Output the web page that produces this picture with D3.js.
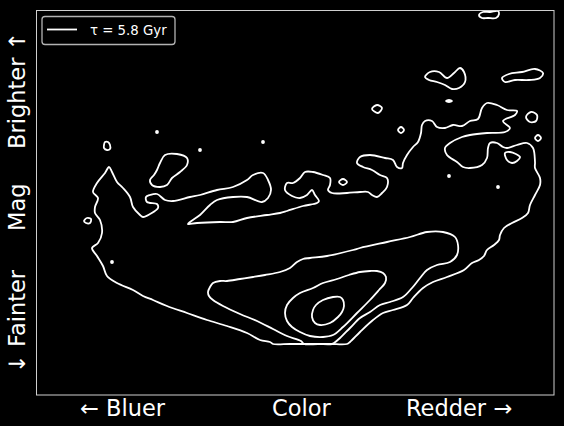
<!DOCTYPE html>
<html><head><meta charset="utf-8">
<script src="https://cdn.jsdelivr.net/npm/d3@7"></script>
<style>
html,body{margin:0;padding:0;background:#000;}
svg{display:block;font-family:"DejaVu Sans",sans-serif;}
</style></head>
<body><svg id="c" width="564" height="426"></svg>
<script>
// Data: color offset (x) and magnitude offset (y, larger = fainter)
const xLabels = ["\u2190 Bluer", "Color", "Redder \u2192"];
const yLabels = ["\u2193 Fainter", "Mag", "Brighter \u2191"];
const legendLabel = "\u03C4 = 5.8 Gyr";

const level1 = [[73,157],[76,162],[81,172],[87,178],[94,187],[97,197],[104,205],[107,207],[114,204],[122,198],[121,194],[111,192],[110,187],[114,185],[121,184],[129,190],[137,191],[154,187],[164,185],[181,180],[197,177],[211,170],[217,165],[227,163],[232,170],[235,180],[232,188],[226,192],[211,187],[197,187],[181,190],[174,195],[164,205],[154,212],[152,214],[161,213],[184,212],[197,212],[211,208],[231,205],[244,203],[251,201],[267,196],[281,193],[283,191],[279,185],[276,180],[271,185],[264,188],[256,186],[249,180],[251,173],[257,173],[264,168],[269,162],[277,162],[287,165],[294,168],[294,175],[292,180],[296,183],[311,183],[324,182],[332,182],[336,185],[341,187],[346,183],[351,177],[351,168],[344,165],[336,160],[327,157],[321,153],[324,147],[334,145],[349,148],[357,150],[361,157],[366,158],[367,153],[371,145],[377,137],[382,132],[385,123],[386,115],[389,111],[396,111],[401,117],[409,118],[417,115],[426,116],[434,111],[442,109],[446,98],[451,93],[461,95],[471,100],[481,101],[479,105],[467,111],[474,118],[469,122],[451,123],[434,125],[426,127],[414,133],[409,138],[411,145],[421,152],[427,157],[434,158],[446,155],[451,148],[452,138],[454,133],[461,133],[467,137],[471,138],[481,135],[491,133],[497,138],[499,152],[499,158],[504,168],[504,175],[499,185],[494,195],[492,203],[486,208],[476,213],[468,218],[464,225],[463,230],[458,235],[451,240],[448,246],[443,250],[436,253],[428,260],[411,267],[397,272],[387,278],[377,288],[371,295],[357,300],[347,303],[337,310],[324,322],[314,332],[311,334],[294,334],[274,334],[254,334],[237,334],[234,332],[224,330],[211,323],[191,316],[171,310],[151,303],[131,296],[117,290],[107,286],[97,280],[81,273],[71,266],[67,256],[61,246],[56,238],[62,233],[66,223],[64,210],[59,203],[59,197],[62,188],[57,182],[61,173],[69,163]];

const level1Islands = [
  [[68,135],[69,132],[72,132],[74,135],[74,139],[71,140],[68,138]],
  [[129,145],[141,144],[151,148],[151,155],[144,162],[136,168],[131,175],[124,177],[116,175],[114,170],[118,165],[121,160],[124,153]],
  [[48,211],[51,208],[55,209],[54,213],[50,213]],
  [[303,172],[307,169],[311,172],[307,175]],
  [[336,99],[341,95],[346,98],[342,103]],
  [[362,120],[365,117],[368,120],[365,123]],
  [[410,91],[413,90],[416,91],[413,92]],
  [[443,5],[447,2],[454,2],[462,1],[463,4],[460,8],[452,8],[446,8]],
  [[389,67],[394,62],[403,62],[411,68],[418,63],[424,58],[428,62],[429,72],[423,78],[416,79],[409,75],[401,72],[393,70]],
  [[466,68],[473,64],[486,62],[499,59],[507,63],[504,68],[493,70],[479,70],[469,72]],
  [[490,107],[495,102],[501,105],[500,111],[494,112]],
  [[499,128],[502,125],[505,128],[502,131]],
  [[469,143],[474,142],[484,147],[481,151],[476,153],[471,150]],
  [[120,122],[121,121],[122,122],[121,123]],
  [[163,140],[164,139],[165,140],[164,141]],
  [[226,132],[227,131],[228,132],[227,133]],
  [[75,252],[76,251],[77,252],[76,253]],
  [[412,166],[413,165],[414,166],[413,167]],
  [[461,177],[462,176],[463,177],[462,178]]
];

const level2 = [[172,282],[174,277],[177,273],[184,271],[191,271],[204,269],[217,267],[229,265],[244,262],[254,258],[261,252],[267,249],[274,248],[291,246],[317,240],[324,238],[351,232],[374,227],[391,222],[407,222],[419,227],[422,235],[421,245],[414,252],[401,255],[391,260],[384,268],[376,278],[367,287],[354,292],[344,295],[334,302],[324,308],[314,318],[304,328],[298,333],[296,334],[282,334],[268,334],[265,331],[251,326],[237,319],[221,311],[204,304],[187,296],[177,290],[173,286]];

const level3 = [[249,303],[251,295],[257,288],[264,283],[277,278],[287,273],[301,269],[313,265],[324,262],[334,261],[341,261],[347,263],[350,267],[349,273],[343,280],[334,290],[321,303],[307,317],[297,325],[287,327],[274,326],[264,322],[256,317],[251,311]];

const level4 = [[276,307],[277,300],[280,295],[287,290],[297,287],[304,287],[307,290],[308,296],[306,302],[302,307],[294,313],[284,315],[279,313]];

const W = 564, H = 426;
const m = {left:36, top:10, right:10, bottom:31};
const pw = W - m.left - m.right, ph = H - m.top - m.bottom;
const svg = d3.select("#c");
svg.append("rect").attr("width",W).attr("height",H).attr("fill","#000");

const x = d3.scaleLinear().domain([0,518]).range([0,pw]);
const y = d3.scaleLinear().domain([0,385]).range([0,ph]);

const g = svg.append("g").attr("transform",`translate(${m.left},${m.top})`);
g.append("rect").attr("width",pw).attr("height",ph).attr("fill","#000");

const line = d3.line().x(d=>x(d[0])).y(d=>y(d[1])).curve(d3.curveCatmullRomClosed.alpha(0.5));
const all = [level1, ...level1Islands, level2, level3, level4];
g.append("g").selectAll("path").data(all).join("path")
  .attr("d", line).attr("fill","none").attr("stroke","#fff")
  .attr("stroke-width",1.8).attr("stroke-linejoin","round");

g.append("rect").attr("x",0.5).attr("y",0.5).attr("width",pw-0.5).attr("height",ph-0.5)
  .attr("fill","none").attr("stroke","#cfcfcf").attr("stroke-width",1);

// x labels
const xPos = [80, 272, 406];
svg.selectAll("text.xl").data(xLabels).join("text").attr("class","xl")
  .attr("x",(d,i)=>xPos[i]).attr("y",416).attr("fill","#fff")
  .attr("font-size","22.5px").text(d=>d);

// y labels (rotated)
const yPos = [373, 231, 149];
svg.selectAll("text.yl").data(yLabels).join("text").attr("class","yl")
  .attr("transform",(d,i)=>`translate(25,${yPos[i]}) rotate(-90)`)
  .attr("fill","#fff").attr("font-size","22.5px").text(d=>d);

// legend
const lg = svg.append("g");
lg.append("rect").attr("x",42).attr("y",16.5).attr("width",133).attr("height",28).attr("rx",3)
  .attr("fill","#000").attr("stroke","#b3b3b3").attr("stroke-width",1.3);
lg.append("line").attr("x1",47).attr("x2",77).attr("y1",29.5).attr("y2",29.5)
  .attr("stroke","#fff").attr("stroke-width",1.8);
lg.append("text").attr("x",90).attr("y",35).attr("fill","#fff").attr("font-size","13.3px").text(legendLabel);
</script></body></html>
